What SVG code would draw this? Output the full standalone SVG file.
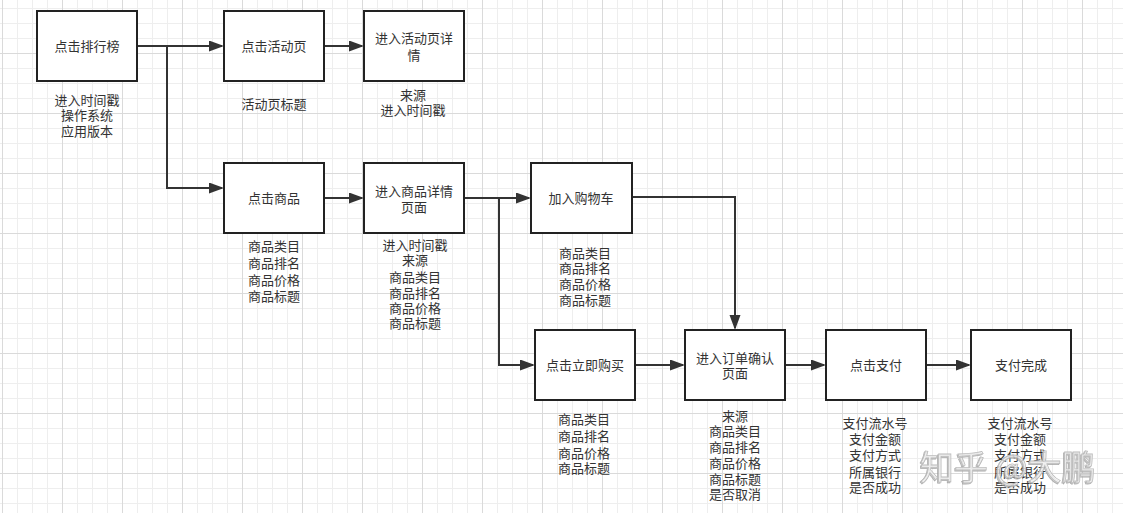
<svg xmlns="http://www.w3.org/2000/svg" width="1123" height="513" viewBox="0 0 1123 513">
<style>
.box{fill:#fff;stroke:#222;stroke-width:2}
.t{font-family:"Noto Sans CJK SC","Noto Sans",sans-serif;font-size:13px;fill:#333;text-anchor:middle}
.c{fill:none;stroke:#333;stroke-width:2}
.wm{font-family:"Noto Sans CJK SC",sans-serif;font-size:34px}
</style>
<defs>
<pattern id="grid" patternUnits="userSpaceOnUse" x="2" y="-7" width="60" height="60">
<path d="M15.5 0V60M30.5 0V60M45.5 0V60M0 15.5H60M0 30.5H60M0 45.5H60" stroke="#eeeeee" stroke-width="1" fill="none"/>
<path d="M0.5 0V60M0 0.5H60" stroke="#dadada" stroke-width="1" fill="none"/>
</pattern>
<marker id="arr" markerUnits="userSpaceOnUse" markerWidth="15" markerHeight="12" refX="13" refY="5.5" orient="auto">
<path d="M0,0 L15,5.5 L0,11 z" fill="#333"/>
</marker>
<filter id="sh" x="-5%" y="-20%" width="110%" height="140%">
<feDropShadow dx="-1" dy="1" stdDeviation="0.6" flood-color="#999" flood-opacity="0.8"/>
</filter>
</defs>
<rect width="1123" height="513" fill="#fff"/>
<rect width="1123" height="513" fill="url(#grid)"/>

<g id="connectors">
<path class="c" d="M137 46H222" marker-end="url(#arr)"/>
<path class="c" d="M167 46V188H222" marker-end="url(#arr)"/>
<path class="c" d="M324 46H362" marker-end="url(#arr)"/>
<path class="c" d="M324 198H362" marker-end="url(#arr)"/>
<path class="c" d="M464 198H529" marker-end="url(#arr)"/>
<path class="c" d="M499 198V365H533" marker-end="url(#arr)"/>
<path class="c" d="M632 197H735V328" marker-end="url(#arr)"/>
<path class="c" d="M635 365H683" marker-end="url(#arr)"/>
<path class="c" d="M785 365H824" marker-end="url(#arr)"/>
<path class="c" d="M926 365H969" marker-end="url(#arr)"/>
</g>

<g id="n1"><rect class="box" x="37" y="11" width="100" height="70"/><text class="t" x="87" y="51">点击排行榜</text>
<text class="t"><tspan x="87" y="105">进入时间戳</tspan><tspan x="87" y="120">操作系统</tspan><tspan x="87" y="136">应用版本</tspan></text></g>

<g id="n2"><rect class="box" x="224" y="11" width="100" height="70"/><text class="t" x="274" y="51">点击活动页</text>
<text class="t" x="274" y="109">活动页标题</text></g>

<g id="n3"><rect class="box" x="364" y="11" width="100" height="70"/><text class="t"><tspan x="414" y="43">进入活动页详</tspan><tspan x="414" y="60">情</tspan></text>
<text class="t"><tspan x="413" y="100">来源</tspan><tspan x="413" y="115">进入时间戳</tspan></text></g>

<g id="n4"><rect class="box" x="224" y="163" width="100" height="70"/><text class="t" x="274" y="203">点击商品</text>
<text class="t"><tspan x="274" y="251">商品类目</tspan><tspan x="274" y="268">商品排名</tspan><tspan x="274" y="285">商品价格</tspan><tspan x="274" y="301">商品标题</tspan></text></g>

<g id="n5"><rect class="box" x="364" y="163" width="100" height="70"/><text class="t"><tspan x="414" y="196">进入商品详情</tspan><tspan x="414" y="212">页面</tspan></text>
<text class="t"><tspan x="415" y="250">进入时间戳</tspan><tspan x="415" y="265">来源</tspan><tspan x="415" y="282">商品类目</tspan><tspan x="415" y="298">商品排名</tspan><tspan x="415" y="313">商品价格</tspan><tspan x="415" y="328">商品标题</tspan></text></g>

<g id="n6"><rect class="box" x="531" y="163" width="101" height="70"/><text class="t" x="581" y="203">加入购物车</text>
<text class="t"><tspan x="585" y="258">商品类目</tspan><tspan x="585" y="273">商品排名</tspan><tspan x="585" y="289">商品价格</tspan><tspan x="585" y="305">商品标题</tspan></text></g>

<g id="n7"><rect class="box" x="535" y="330" width="100" height="70"/><text class="t" x="585" y="370">点击立即购买</text>
<text class="t"><tspan x="584" y="424">商品类目</tspan><tspan x="584" y="441">商品排名</tspan><tspan x="584" y="458">商品价格</tspan><tspan x="584" y="473">商品标题</tspan></text></g>

<g id="n8"><rect class="box" x="685" y="330" width="100" height="70"/><text class="t"><tspan x="735" y="363">进入订单确认</tspan><tspan x="735" y="378">页面</tspan></text>
<text class="t"><tspan x="735" y="421">来源</tspan><tspan x="735" y="436">商品类目</tspan><tspan x="735" y="452">商品排名</tspan><tspan x="735" y="468">商品价格</tspan><tspan x="735" y="484">商品标题</tspan><tspan x="735" y="499">是否取消</tspan></text></g>

<g id="n9"><rect class="box" x="826" y="330" width="100" height="70"/><text class="t" x="876" y="370">点击支付</text>
<text class="t"><tspan x="875" y="428">支付流水号</tspan><tspan x="875" y="444">支付金额</tspan><tspan x="875" y="460">支付方式</tspan><tspan x="875" y="477">所属银行</tspan><tspan x="875" y="492">是否成功</tspan></text></g>

<g id="n10"><rect class="box" x="971" y="330" width="100" height="70"/><text class="t" x="1021" y="370">支付完成</text>
<text class="t"><tspan x="1020" y="428">支付流水号</tspan><tspan x="1020" y="444">支付金额</tspan><tspan x="1020" y="460">支付方式</tspan><tspan x="1020" y="477">所属银行</tspan><tspan x="1020" y="492">是否成功</tspan></text></g>

<g id="watermark">
<text class="wm" x="920" y="480" fill="#fff" fill-opacity="0.6" stroke="#bbbbbb" stroke-width="0.8" filter="url(#sh)">知乎 @大鹏</text>
</g>
</svg>
